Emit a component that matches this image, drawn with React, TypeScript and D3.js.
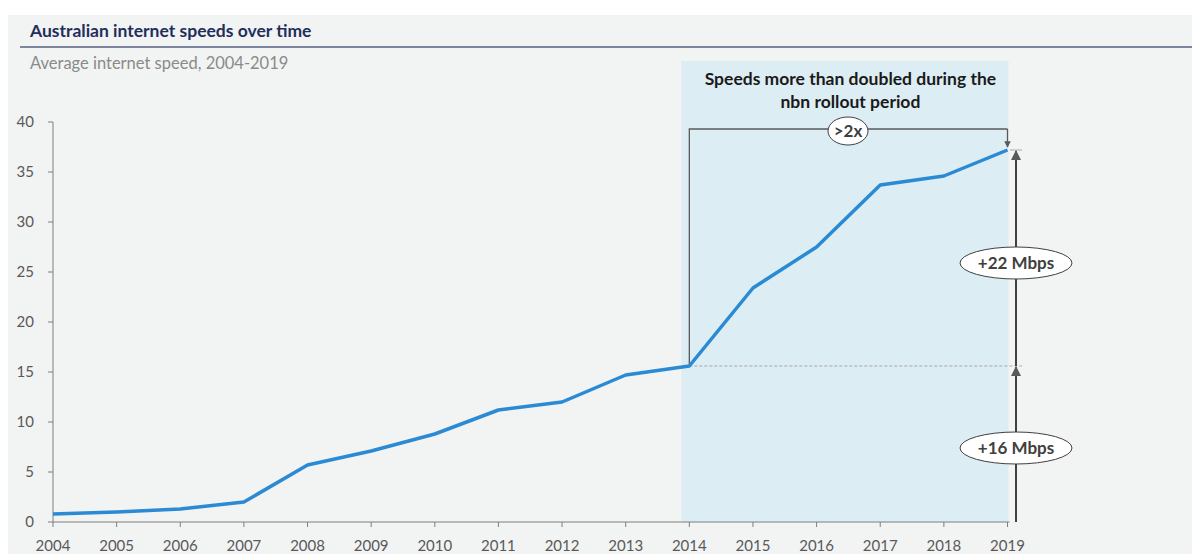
import React from "react";
import * as d3 from "d3";

const years = [2004, 2005, 2006, 2007, 2008, 2009, 2010, 2011, 2012, 2013, 2014, 2015, 2016, 2017, 2018, 2019];
const speeds = [0.8, 1.0, 1.3, 2.0, 5.7, 7.1, 8.8, 11.2, 12.0, 14.7, 15.6, 23.4, 27.5, 33.7, 34.6, 37.2];
const yTicks = [0, 5, 10, 15, 20, 25, 30, 35, 40];
const title = "Australian internet speeds over time";
const subtitle = "Average internet speed, 2004-2019";
const noteLines = ["Speeds more than doubled during the", "nbn rollout period"];
const rolloutStart = 2014;
const rolloutEnd = 2019;

const W = 1192, H = 554;
const FONT = "Lato, 'Open Sans', sans-serif";

export default function App() {
  const x = d3.scaleLinear().domain([2004, 2019]).range([53, 1007.5]);
  const y = d3.scaleLinear().domain([0, 40]).range([522, 122]);
  const line = d3.line<number>().x((_, i) => x(years[i])).y((d) => y(d));

  const vStart = speeds[years.indexOf(rolloutStart)];
  const vEnd = speeds[years.indexOf(rolloutEnd)];
  const xs = x(rolloutStart), xe = x(rolloutEnd);
  const arrowX = xe + 8.5;
  const bracketY = 129;
  const gray = "#595959";

  return (
    <svg width={W} height={H} style={{ position: "absolute", left: 0, top: 0 }} fontFamily={FONT}>
      <defs>
        <marker id="ah" viewBox="0 0 10 10" refX="9" refY="5" markerWidth="5" markerHeight="5" orient="auto">
          <path d="M0,0 L10,5 L0,10 z" fill={gray} />
        </marker>
      </defs>
      <rect x={8} y={15} width={W - 8} height={H - 15} fill="#f2f3f3" />
      <text x={30} y={37} fontSize={17.5} fontWeight={700} fill="#1f2f5c">{title}</text>
      <line x1={20} x2={W} y1={47} y2={47} stroke="#56627f" strokeWidth={1.5} />
      <text x={30} y={69} fontSize={16.5} fill="#8a8a8a">{subtitle}</text>

      {/* shaded rollout region */}
      <rect x={xs - 8} y={61} width={xe - xs + 9} height={y(0) - 61} fill="#ddedf4" />
      {noteLines.map((t, i) => (
        <text key={i} x={(xs + xe) / 2 + 2} y={85 + i * 23} fontSize={17.5} fontWeight={700} fill="#1a1a1a" textAnchor="middle">{t}</text>
      ))}

      {/* axes */}
      <line x1={x(2004)} x2={x(2004)} y1={y(40)} y2={y(0)} stroke="#7f7f7f" strokeWidth={1} />
      <line x1={x(2004)} x2={x(2019) + 2} y1={y(0)} y2={y(0)} stroke="#7f7f7f" strokeWidth={1} />
      {yTicks.map((t) => (
        <g key={t}>
          <line x1={x(2004) - 5} x2={x(2004)} y1={y(t)} y2={y(t)} stroke="#7f7f7f" />
          <text x={34} y={y(t) + 5} fontSize={15} fill="#595959" textAnchor="end">{t}</text>
        </g>
      ))}
      {years.map((yr) => (
        <g key={yr}>
          <line x1={x(yr)} x2={x(yr)} y1={y(0)} y2={y(0) + 5} stroke="#7f7f7f" />
          <text x={x(yr)} y={551} fontSize={15} fill="#595959" textAnchor="middle">{yr}</text>
        </g>
      ))}

      {/* dashed reference */}
      <line x1={xs} x2={arrowX + 6} y1={y(vStart)} y2={y(vStart)} stroke="#a6a6a6" strokeWidth={1} strokeDasharray="3,2" />

      {/* bracket */}
      <path d={`M${xs},${y(vStart)} V${bracketY} H${xe}`} fill="none" stroke={gray} strokeWidth={1.3} />
      <line x1={xe} x2={xe} y1={bracketY} y2={y(vEnd) - 3} stroke={gray} strokeWidth={1.3} markerEnd="url(#ah)" />

      {/* data line */}
      <path d={line(speeds) || ""} fill="none" stroke="#2a8ad4" strokeWidth={3.5} strokeLinejoin="round" />

      {/* right arrows */}
      <line x1={arrowX} x2={arrowX} y1={y(0)} y2={y(vStart) + 1} stroke="#404040" strokeWidth={2} markerEnd="url(#ah)" />
      <line x1={arrowX} x2={arrowX} y1={y(vStart)} y2={y(vEnd) + 1} stroke="#404040" strokeWidth={2} markerEnd="url(#ah)" />
      <line x1={arrowX - 6} x2={arrowX + 6} y1={y(vEnd)} y2={y(vEnd)} stroke="#a6a6a6" strokeWidth={1} />

      {/* labels */}
      <ellipse cx={848} cy={bracketY + 2} rx={20} ry={14} fill="#fff" stroke="#404040" strokeWidth={1} />
      <text x={848} y={bracketY + 8} fontSize={17} fill="#404040" textAnchor="middle" fontWeight={700}>&gt;2x</text>

      <ellipse cx={arrowX} cy={263} rx={56} ry={16} fill="#fff" stroke="#404040" strokeWidth={1} />
      <text x={arrowX} y={269} fontSize={17} fill="#404040" textAnchor="middle" fontWeight={700}>+22 Mbps</text>
      <ellipse cx={arrowX} cy={448} rx={56} ry={16} fill="#fff" stroke="#404040" strokeWidth={1} />
      <text x={arrowX} y={454} fontSize={17} fill="#404040" textAnchor="middle" fontWeight={700}>+16 Mbps</text>
    </svg>
  );
}
